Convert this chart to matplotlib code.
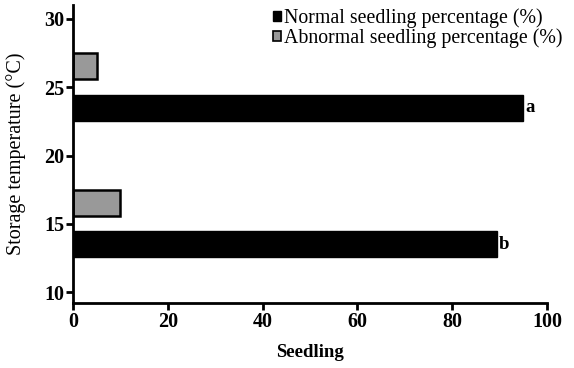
import numpy as np
import matplotlib.pyplot as plt
from matplotlib.patches import Patch

# Data
temperatures = [15, 25]
normal_pct = [89.5, 95]
abnormal_pct = [10, 5]
letters = ['b', 'a']

plt.rcParams['font.family'] = ['Liberation Serif', 'DejaVu Serif']

fig = plt.figure(figsize=(5.74, 3.68), dpi=100)
ax = fig.add_axes([0.127, 0.176, 0.826, 0.81])

temps = np.array(temperatures)
bar_h = 1.9
ax.barh(temps - 1.5, normal_pct, height=bar_h, color='black', edgecolor='black')
ax.barh(temps + 1.55, abnormal_pct, height=bar_h, color='#999999',
        edgecolor='black', linewidth=1.8)

for t, v, s in zip(temps, normal_pct, letters):
    ax.text(v + 0.4, t - 1.5, s, ha='left', va='center', fontsize=13.5,
            fontweight='bold')

ax.set_xlim(0, 100)
ax.set_ylim(9.2, 31)
ax.set_xticks([0, 20, 40, 60, 80, 100])
ax.set_yticks([10, 15, 20, 25, 30])

for side in ['top', 'right']:
    ax.spines[side].set_visible(False)
for side in ['left', 'bottom']:
    ax.spines[side].set_linewidth(2)
ax.tick_params(width=2, length=5, labelsize=14.5, pad=1)
for lab in ax.get_xticklabels() + ax.get_yticklabels():
    lab.set_fontweight('bold')

ax.set_xlabel('Seedling', fontsize=13.5, fontweight='bold', labelpad=9)
ax.set_ylabel('Storage temperature (°C)', fontsize=14.5, labelpad=13)

handles = [Patch(facecolor='black', edgecolor='black'),
           Patch(facecolor='#999999', edgecolor='black', linewidth=1.2)]
ax.legend(handles, ['Normal seedling percentage (%)',
                    'Abnormal seedling percentage (%)'],
          loc='upper right', bbox_to_anchor=(1.05, 1.017), frameon=False,
          fontsize=14.3, handlelength=0.4, handleheight=0.4,
          handletextpad=0.15, labelspacing=0.04, borderaxespad=0)

plt.savefig('out.png', dpi=100)
